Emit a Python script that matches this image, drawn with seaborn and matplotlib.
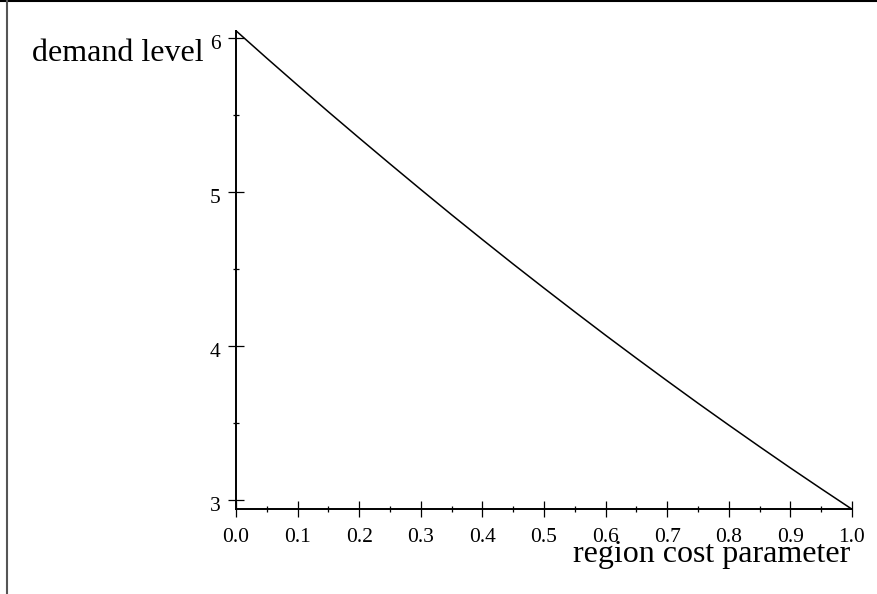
import matplotlib
matplotlib.use("Agg")
import matplotlib.pyplot as plt
from matplotlib.lines import Line2D
from matplotlib.transforms import ScaledTranslation
import seaborn as sns
import pandas as pd

# values
cost = [0.0, 0.05, 0.1, 0.15, 0.2, 0.25, 0.3, 0.35, 0.4, 0.45, 0.5,
        0.55, 0.6, 0.65, 0.7, 0.75, 0.8, 0.85, 0.9, 0.95, 1.0]
demand = [6.047, 5.869, 5.694, 5.521, 5.351, 5.183, 5.017, 4.853, 4.692, 4.533, 4.377,
          4.223, 4.071, 3.922, 3.775, 3.630, 3.488, 3.348, 3.210, 3.075, 2.942]

x_ticks = [0.0, 0.1, 0.2, 0.3, 0.4, 0.5, 0.6, 0.7, 0.8, 0.9, 1.0]
x_tick_labels = ["0.0", "0.1", "0.2", "0.3", "0.4", "0.5", "0.6", "0.7", "0.8", "0.9", "1.0"]
x_minor = [0.05, 0.15, 0.25, 0.35, 0.45, 0.55, 0.65, 0.75, 0.85, 0.95]
y_ticks = [3, 4, 5, 6]
y_tick_labels = ["3", "4", "5", "6"]
y_minor = [3.5, 4.5, 5.5]

df = pd.DataFrame({"cost": cost, "demand": demand})

sns.set_style("ticks")
plt.rcParams["font.family"] = ["Liberation Serif", "DejaVu Serif"]
plt.rcParams["text.color"] = "black"

fig = plt.figure(figsize=(8.78, 5.94), dpi=100)
ax = fig.add_axes([236 / 878, 84.7 / 594, 616 / 878, 478.3 / 594])

sns.lineplot(data=df, x="cost", y="demand", color="black", linewidth=1.1,
             ax=ax, clip_on=False)

ax.set_xlim(0, 1.0)
ax.set_ylim(2.9416, 6.0455)

ax.set_xticks(x_ticks, x_tick_labels)
ax.set_xticks(x_minor, minor=True)
ax.set_yticks(y_ticks, y_tick_labels)
ax.set_yticks(y_minor, minor=True)

ax.tick_params(which="major", direction="inout", length=11.5, width=0.9,
               labelsize=15.5, color="black", labelcolor="black")
ax.tick_params(axis="y", which="major", pad=5.5)
ax.tick_params(axis="x", which="major", pad=7.5)
ax.tick_params(which="minor", direction="inout", length=5, width=0.9, color="black")

# y tick labels sit a little below their ticks in the original
shift = ScaledTranslation(0, -3 / 72, fig.dpi_scale_trans)
for lbl in ax.get_yticklabels():
    lbl.set_transform(lbl.get_transform() + shift)

for side in ["top", "right"]:
    ax.spines[side].set_visible(False)
for side in ["left", "bottom"]:
    ax.spines[side].set_color("black")
    ax.spines[side].set_linewidth(1.4)

ax.set_xlabel("region cost parameter", fontsize=23, color="black",
              ha="right", va="baseline")
ax.xaxis.set_label_coords(0.9967, -0.1098)
ax.set_ylabel("demand level", fontsize=23, color="black", rotation=0,
              ha="left", va="baseline")
ax.yaxis.set_label_coords(-0.3317, 0.9379)

# page frame (top and left edges)
fig.add_artist(Line2D([0, 1], [1 - 1 / 594, 1 - 1 / 594], color="black",
                      linewidth=1.5, transform=fig.transFigure))
fig.add_artist(Line2D([7 / 878, 7 / 878], [0, 1], color="#555555",
                      linewidth=1.5, transform=fig.transFigure))

fig.savefig("out.png", dpi=100)
